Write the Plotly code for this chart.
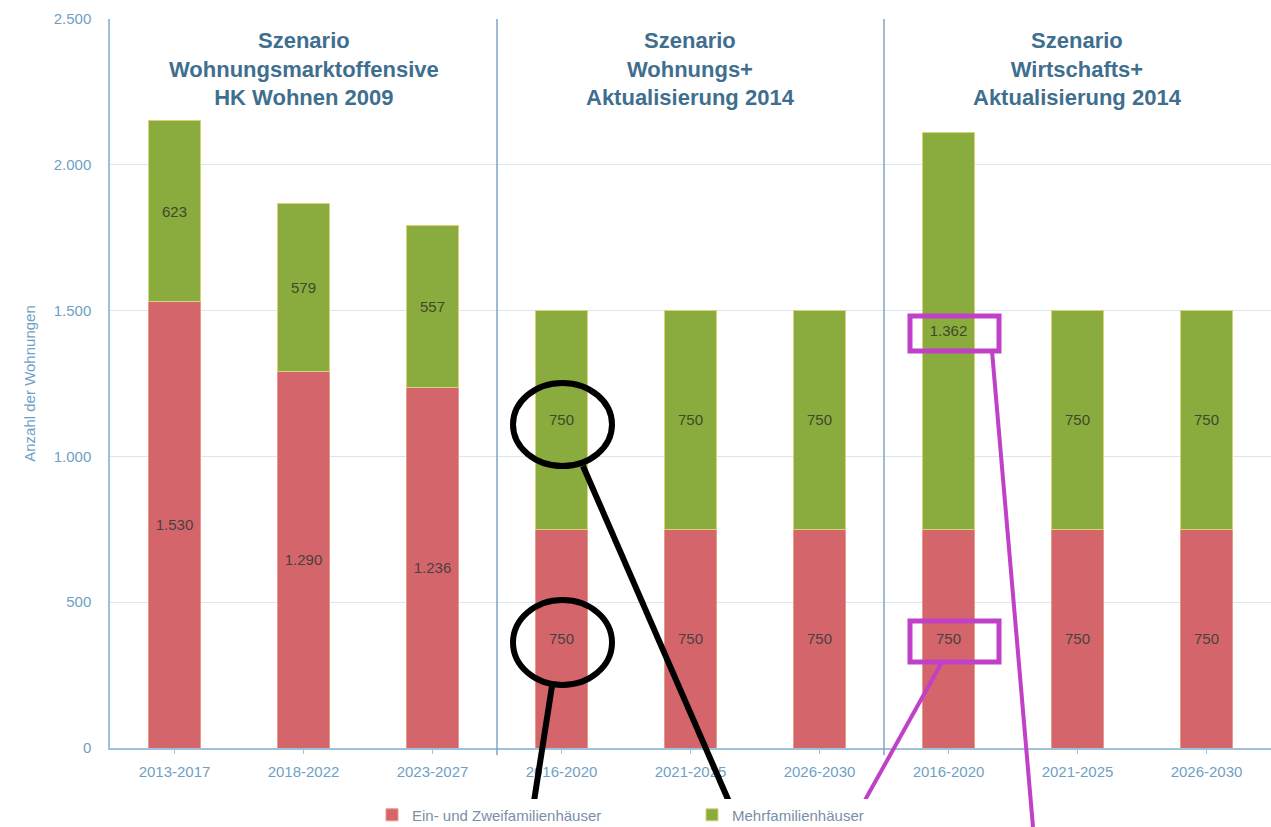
import plotly.graph_objects as go

categories = ["2013-2017", "2018-2022", "2023-2027",
              "2016-2020", "2021-2025", "2026-2030",
              "2016-2020", "2021-2025", "2026-2030"]
efh = [1530, 1290, 1236, 750, 750, 750, 750, 750, 750]
mfh = [623, 579, 557, 750, 750, 750, 1362, 750, 750]
series_names = ["Ein- und Zweifamilienhäuser", "Mehrfamilienhäuser"]
group_titles = ["<b>Szenario<br>Wohnungsmarktoffensive<br>HK Wohnen 2009</b>",
                "<b>Szenario<br>Wohnungs+<br>Aktualisierung 2014</b>",
                "<b>Szenario<br>Wirtschafts+<br>Aktualisierung 2014</b>"]
y_ticks = [0, 500, 1000, 1500, 2000, 2500]
y_ticklabels = ["0", "500", "1.000", "1.500", "2.000", "2.500"]


def de(v):
    return f"{v:,}".replace(",", ".")


xs = list(range(len(categories)))
RED = "#d4666b"
GREEN = "#8aab3d"
AX = "#6f9fc4"

fig = go.Figure()
fig.add_trace(go.Bar(x=xs, y=efh, name=series_names[0], marker_color=RED,
                     marker_line=dict(color="#e79a86", width=1),
                     text=[de(v) for v in efh], textposition="inside",
                     insidetextanchor="middle",
                     textfont=dict(color="#4a4040", size=15, family="Arial")))
fig.add_trace(go.Bar(x=xs, y=mfh, name=series_names[1], marker_color=GREEN,
                     marker_line=dict(color="#d9d27a", width=1),
                     text=[de(v) for v in mfh], textposition="inside",
                     insidetextanchor="middle",
                     textfont=dict(color="#3e4a2a", size=15, family="Arial")))

W, H = 1271, 827
L, R, T, B = 110, 0, 19, 79
pw, ph = W - L - R, H - T - B


def px(x):
    return (x - L) / pw


def py(y):
    return (H - B - y) / ph


shapes = []
# group separators
for sep in [2.5, 5.5]:
    shapes.append(dict(type="line", xref="x", yref="paper", x0=sep, x1=sep,
                       y0=-0.01, y1=1.0, line=dict(color="#7fa6c6", width=1.5)))
# black circle overlays
for (x0, y0, x1, y1) in [(513, 383, 612, 466), (513, 600, 612, 685)]:
    shapes.append(dict(type="circle", xref="paper", yref="paper",
                       x0=px(x0), x1=px(x1), y0=py(y1), y1=py(y0),
                       line=dict(color="black", width=6)))
for (x0, y0, x1, y1) in [(583, 466, 740, 827), (552, 686, 530, 827)]:
    shapes.append(dict(type="line", xref="paper", yref="paper",
                       x0=px(x0), x1=px(x1), y0=py(y0), y1=py(y1),
                       line=dict(color="black", width=6)))
# magenta box overlays
for (x0, y0, x1, y1) in [(910, 316, 999, 351), (910, 621, 999, 662)]:
    shapes.append(dict(type="rect", xref="paper", yref="paper",
                       x0=px(x0), x1=px(x1), y0=py(y1), y1=py(y0),
                       line=dict(color="#c040c8", width=5)))
for (x0, y0, x1, y1) in [(992, 351, 1033, 827), (942, 662, 850, 827)]:
    shapes.append(dict(type="line", xref="paper", yref="paper",
                       x0=px(x0), x1=px(x1), y0=py(y0), y1=py(y1),
                       line=dict(color="#c040c8", width=4)))

annotations = []
for i, t in enumerate(group_titles):
    annotations.append(dict(x=1 + 3 * i, y=2475, xref="x", yref="y",
                            text=t, showarrow=False, yanchor="top",
                            font=dict(size=22, color="#3f6f8f", family="Arial"),
                            align="center"))

fig.update_layout(
    width=W, height=H,
    margin=dict(l=L, r=R, t=T, b=B, autoexpand=False),
    paper_bgcolor="white", plot_bgcolor="white",
    barmode="stack", bargap=0.6,
    font=dict(family="Arial", color=AX),
    showlegend=True,
    legend=dict(orientation="h", x=px(372), xanchor="left", y=-0.092, yanchor="middle",
                entrywidth=275,
                font=dict(size=15, color="#7a8fa8"), traceorder="normal"),
    shapes=shapes, annotations=annotations,
    yaxis=dict(range=[0, 2500], tickvals=y_ticks, ticktext=y_ticklabels,
               automargin=False,
               showgrid=True, gridcolor="#d8e7f3", gridwidth=1,
               zeroline=False, showline=True, linecolor="#9fc0da", linewidth=1.5,
               ticklabelstandoff=14,
               tickfont=dict(size=15, color=AX),
               title=dict(text="Anzahl der Wohnungen", font=dict(size=15, color=AX), standoff=14)),
    xaxis=dict(range=[-0.5, 8.5], tickvals=xs, ticktext=categories,
               automargin=False,
               showgrid=False, zeroline=False, showline=True,
               linecolor="#9fc0da", linewidth=1.5, ticks="outside", ticklen=4,
               ticklabelstandoff=5,
               tickcolor="#9fc0da", tickfont=dict(size=15, color=AX)),
)

fig.write_html("out.html")
